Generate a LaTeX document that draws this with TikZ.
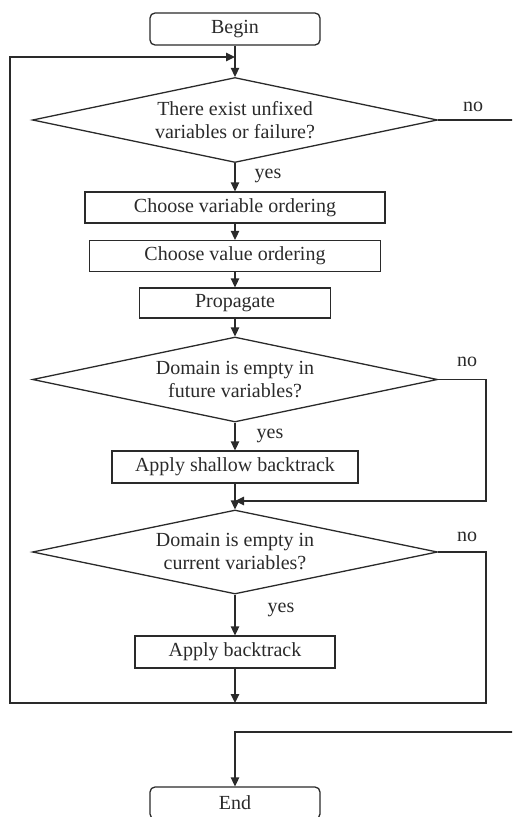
\documentclass[tikz,border=0pt]{standalone}
\usepackage{fontspec}
\setmainfont{Liberation Serif}
\usetikzlibrary{shapes.geometric,arrows.meta}
\definecolor{ln}{HTML}{2A2A2A}
\begin{document}
\begin{tikzpicture}[x=1pt,y=-1pt,
  every node/.style={font=\fontsize{20}{23}\selectfont, text=ln},
  line/.style={draw=ln, line width=1.3pt},
  arr/.style={line, -{Triangle[length=9pt,width=8.5pt]}},
  term/.style={line, rectangle, rounded corners=5pt, minimum width=170pt, minimum height=32pt, inner sep=0pt},
  procbox/.style={line, rectangle, minimum height=31pt, inner sep=0pt},
  decide/.style={line, diamond, aspect=4.76, inner sep=0pt, minimum width=405pt, minimum height=85pt, align=center},
  lbl/.style={inner sep=0pt}
]
\useasboundingbox (0,0) rectangle (512,817);
\clip (0,0) rectangle (512,817);

\node[term] (begin) at (235,29) {Begin};
\node[decide] (d1) at (235,120) {There exist unfixed\\variables or failure?};
\node[procbox, minimum width=300pt] (b1) at (235,207.5) {Choose variable ordering};
\node[procbox, minimum width=291pt] (b2) at (235,256) {Choose value ordering};
\node[procbox, minimum width=191pt, minimum height=30pt] (b3) at (235,303) {Propagate};
\node[decide] (d2) at (235,379.5) {Domain is empty in\\future variables?};
\node[procbox, minimum width=246pt, minimum height=32pt] (b4) at (235,467) {Apply shallow backtrack};
\node[decide, minimum height=84pt] (d3) at (235,552) {Domain is empty in\\current variables?};
\node[procbox, minimum width=200pt, minimum height=32pt] (b5) at (235,652) {Apply backtrack};
\node[term] (endb) at (235,803) {End};

% labels
\node[lbl] (y1) at (268,176) {yes};
\node[lbl] (n1) at (473,107) {no};
\node[lbl] (y2) at (270,436) {yes};
\node[lbl] (n2) at (467,362) {no};
\node[lbl] (y3) at (281,610) {yes};
\node[lbl] (n3) at (467,537) {no};

% helper coordinates
\coordinate (top) at (235,57);
\coordinate (loopL) at (10,57);
\coordinate (loopBL) at (10,703);
\coordinate (loopB) at (235,703);
\coordinate (loopBR) at (486,703);
\coordinate (n2R) at (486,379.5);
\coordinate (n2B) at (486,501);
\coordinate (join2) at (235,501);
\coordinate (n3R) at (486,552);
\coordinate (outR) at (530,120);
\coordinate (inR) at (530,732);
\coordinate (inJ) at (235,732);

% connectors
\draw[arr] (begin.south) -- (d1.north);
\draw[arr] (loopB) -- (loopBL) -- (loopL) -- (top);
\draw[arr] (d1.south) -- (b1.north);
\draw[arr] (b1.south) -- (b2.north);
\draw[arr] (b2.south) -- (b3.north);
\draw[arr] (b3.south) -- (d2.north);
\draw[line] (d1.east) -- (outR);
\draw[arr] (d2.south) -- (b4.north);
\draw[arr] (d2.east) -- (n2R) -- (n2B) -- (join2);
\draw[arr] (b4.south) -- (d3.north);
\draw[line] (d3.east) -- (n3R) -- (loopBR) -- (loopB);
\draw[arr] (d3.south) -- (b5.north);
\draw[arr] (b5.south) -- (loopB);
\draw[arr] (inR) -- (inJ) -- (endb.north);
\end{tikzpicture}
\end{document}
